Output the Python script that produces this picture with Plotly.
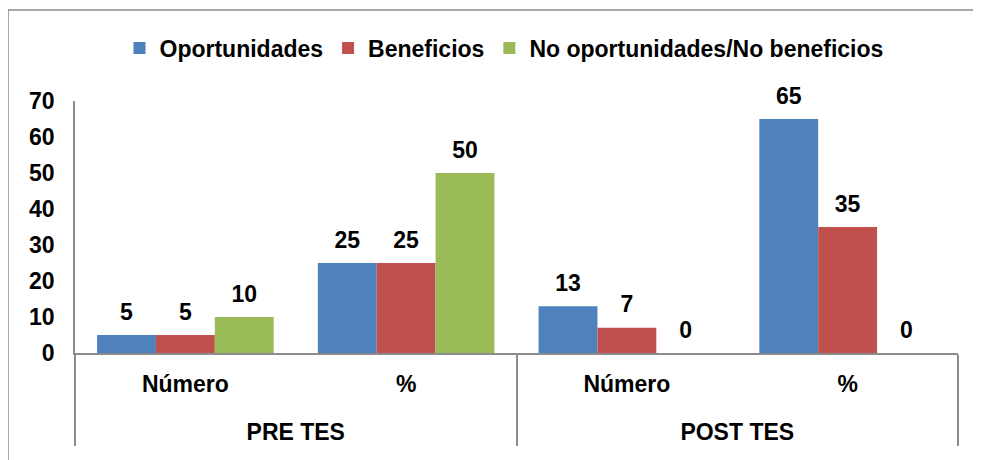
import plotly.graph_objects as go

phases = ["PRE TES", "PRE TES", "POST TES", "POST TES"]
measures = ["Número", "%", "Número", "%"]
series_names = ["Oportunidades", "Beneficios", "No oportunidades/No beneficios"]
oportunidades = [5, 25, 13, 65]
beneficios = [5, 25, 7, 35]
no_op_no_ben = [10, 50, 0, 0]
colors = ["#4F81BD", "#C0504D", "#9BBB59"]
y_ticks = [0, 10, 20, 30, 40, 50, 60, 70]

FONT = "Liberation Sans, Arial, sans-serif"
FS = 23

# page body has an 8px margin; figure sized to fit the 981x460 window
W, H = 973, 452
ml, mr, mt, mb = 67, 23, 93, 107
pw, ph = W - ml - mr, H - mt - mb

# outer label row pushed down one line, as in the original
phase_labels = ["<br>" + p for p in phases]
xcats = [phase_labels, measures]

fig = go.Figure()
for name, vals, col in zip(series_names, [oportunidades, beneficios, no_op_no_ben], colors):
    fig.add_trace(go.Bar(
        x=xcats, y=vals, name=name,
        marker=dict(color=col, line=dict(width=0)),
        offsetgroup=name, alignmentgroup="a",
    ))
for name, vals in zip(series_names, [oportunidades, beneficios, no_op_no_ben]):
    fig.add_trace(go.Scatter(
        x=xcats, y=vals,
        mode="markers+text", text=[str(v) for v in vals], textposition="top center",
        marker=dict(size=14, opacity=0),
        textfont=dict(family=FONT, size=FS, color="black", weight="bold"),
        offsetgroup=name, alignmentgroup="a", showlegend=False, cliponaxis=False,
        hoverinfo="skip",
    ))

def px2paper_x(px):
    return (px - ml) / pw

def py2paper_y(py):
    return (H - mb - py) / ph

fig.add_shape(type="rect", xref="paper", yref="paper",
              x0=px2paper_x(0), x1=px2paper_x(1000),
              y0=py2paper_y(480), y1=py2paper_y(2),
              line=dict(color="#8C8C8C", width=1.5), fillcolor="rgba(0,0,0,0)", layer="below")

fig.update_layout(
    width=W, height=H,
    margin=dict(l=ml, r=mr, t=mt, b=mb),
    paper_bgcolor="white", plot_bgcolor="white",
    barmode="group", bargap=0.2, bargroupgap=0,
    scattermode="group", scattergap=0.2,
    font=dict(family=FONT, size=FS, color="black", weight="bold"),
    legend=dict(orientation="h", x=px2paper_x(496), xanchor="center", y=py2paper_y(40), yanchor="middle",
                font=dict(family=FONT, size=FS, color="black", weight="bold"),
                itemwidth=30, traceorder="normal"),
    xaxis=dict(showline=True, linecolor="#8C8C8C", linewidth=1.5,
               tickfont=dict(family=FONT, size=FS, color="black", weight="bold"),
               showdividers=True, dividercolor="#8C8C8C", dividerwidth=1.5,
               ticks="", showgrid=False, ticklabelstandoff=10),
    yaxis=dict(range=[0, 70], tickvals=y_ticks, showline=True, linecolor="#8C8C8C", linewidth=1.5,
               showgrid=False, zeroline=False, ticks="", ticklabelstandoff=14,
               tickfont=dict(family=FONT, size=FS, color="black", weight="bold")),
)

fig.write_html("out.html")
